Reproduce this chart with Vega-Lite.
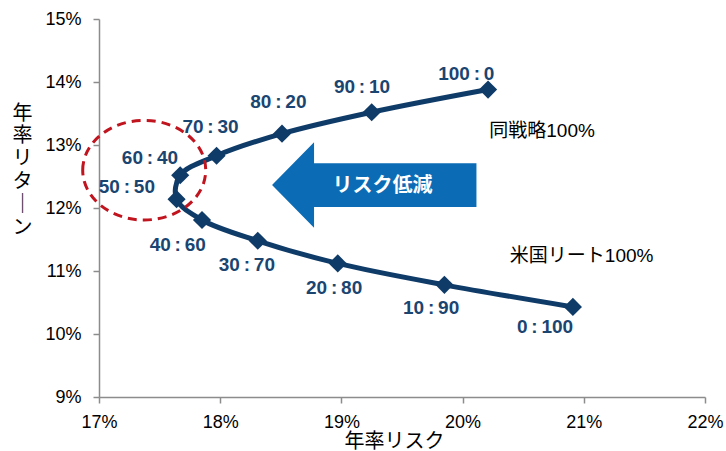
{
  "$schema": "https://vega.github.io/schema/vega-lite/v6.json",
  "width": 606,
  "height": 378,
  "autosize": {"type": "none"},
  "padding": {"left": 99, "top": 19, "right": 21, "bottom": 54},
  "background": "white",
  "config": {"view": {"stroke": null}},
  "datasets": {
    "pts": [
      {"order": 1, "label": "100\u2009:\u20090", "risk": 20.21, "ret": 13.88, "lx": 20.03, "ly": 14.12},
      {"order": 2, "label": "90\u2009:\u200910", "risk": 19.25, "ret": 13.52, "lx": 19.17, "ly": 13.92},
      {"order": 3, "label": "80\u2009:\u200920", "risk": 18.51, "ret": 13.18, "lx": 18.48, "ly": 13.69},
      {"order": 4, "label": "70\u2009:\u200930", "risk": 17.97, "ret": 12.83, "lx": 17.92, "ly": 13.28},
      {"order": 5, "label": "60\u2009:\u200940", "risk": 17.67, "ret": 12.52, "lx": 17.42, "ly": 12.8},
      {"order": 6, "label": "50\u2009:\u200950", "risk": 17.64, "ret": 12.14, "lx": 17.23, "ly": 12.34},
      {"order": 7, "label": "40\u2009:\u200960", "risk": 17.85, "ret": 11.81, "lx": 17.65, "ly": 11.42},
      {"order": 8, "label": "30\u2009:\u200970", "risk": 18.31, "ret": 11.48, "lx": 18.22, "ly": 11.1},
      {"order": 9, "label": "20\u2009:\u200980", "risk": 18.97, "ret": 11.12, "lx": 18.94, "ly": 10.73},
      {"order": 10, "label": "10\u2009:\u200990", "risk": 19.85, "ret": 10.78, "lx": 19.74, "ly": 10.41},
      {"order": 11, "label": "0\u2009:\u2009100", "risk": 20.91, "ret": 10.43, "lx": 20.68, "ly": 10.11}
    ],
    "notes": [
      {"text": "同戦略100%", "x": 20.22, "y": 13.23},
      {"text": "米国リート100%", "x": 20.39, "y": 11.24}
    ],
    "ellipse": [{"x": 17.373, "y": 12.6}],
    "arrow": [{"x": 19.271, "y": 12.365, "text": "リスク低減", "tx": 19.34, "ty": 12.357}]
  },
  "layer": [
    {
      "data": {"name": "pts"},
      "mark": {"type": "line", "interpolate": "catmull-rom", "color": "#0f3b68", "strokeWidth": 5},
      "encoding": {
        "x": {
          "field": "risk", "type": "quantitative",
          "scale": {"domain": [17, 22], "nice": false, "zero": false},
          "axis": {
            "values": [17, 18, 19, 20, 21, 22],
            "labelExpr": "datum.value + '%'",
            "grid": false,
            "domainColor": "#8c8c8c", "domainWidth": 1.5,
            "tickColor": "#8c8c8c", "tickWidth": 1.5, "tickSize": 6,
            "labelFont": "Liberation Sans", "labelFontSize": 18, "labelColor": "#000000",
            "labelPadding": 10, "labelFlush": false,
            "title": "年率リスク",
            "titleFont": "Noto Sans CJK JP", "titleFontSize": 20, "titleFontWeight": "normal",
            "titleColor": "#000000", "titleBaseline": "middle", "titleY": 44, "titleX": 295
          }
        },
        "y": {
          "field": "ret", "type": "quantitative",
          "scale": {"domain": [9, 15], "nice": false, "zero": false},
          "axis": {
            "values": [9, 10, 11, 12, 13, 14, 15],
            "labelExpr": "datum.value + '%'",
            "grid": false,
            "domainColor": "#8c8c8c", "domainWidth": 1.5,
            "tickColor": "#8c8c8c", "tickWidth": 1.5, "tickSize": 6,
            "labelFont": "Liberation Sans", "labelFontSize": 18, "labelColor": "#000000",
            "labelPadding": 12, "labelFlush": false,
            "title": ["年", "率", "リ", "タ", "｜", "ン"],
            "titleAngle": 0, "titleAlign": "center", "titleBaseline": "top",
            "titleLineHeight": 22.8,
            "titleX": -77, "titleY": 84,
            "titleFont": "Noto Sans CJK JP", "titleFontSize": 20, "titleFontWeight": "normal",
            "titleColor": "#000000"
          }
        },
        "order": {"field": "order", "type": "quantitative"}
      }
    },
    {
      "data": {"name": "pts"},
      "mark": {"type": "point", "shape": "diamond", "filled": true, "opacity": 1, "color": "#0f3b68", "size": 330},
      "encoding": {
        "x": {"field": "risk", "type": "quantitative"},
        "y": {"field": "ret", "type": "quantitative"}
      }
    },
    {
      "data": {"name": "ellipse"},
      "mark": {
        "type": "point",
        "shape": "M -1 0 C -1 -0.447 -0.552 -0.81 0 -0.81 C 0.552 -0.81 1 -0.447 1 0 C 1 0.447 0.552 0.81 0 0.81 C -0.552 0.81 -1 0.447 -1 0 Z",
        "filled": false, "opacity": 1, "color": "#c0141f", "strokeWidth": 3, "strokeDash": [9, 6], "size": 15129
      },
      "encoding": {
        "x": {"field": "x", "type": "quantitative"},
        "y": {"field": "y", "type": "quantitative"}
      }
    },
    {
      "data": {"name": "arrow"},
      "mark": {
        "type": "point",
        "shape": "M -1 0 L -0.589 -0.419 L -0.589 -0.214 L 1 -0.214 L 1 0.214 L -0.589 0.214 L -0.589 0.419 Z",
        "filled": true, "opacity": 1, "color": "#0b6cb5", "strokeWidth": 0, "size": 41779
      },
      "encoding": {
        "x": {"field": "x", "type": "quantitative"},
        "y": {"field": "y", "type": "quantitative"}
      }
    },
    {
      "data": {"name": "arrow"},
      "mark": {"type": "text", "font": "Noto Sans CJK JP", "fontWeight": "bold", "fontSize": 20, "color": "#ffffff", "align": "center", "baseline": "middle"},
      "encoding": {
        "x": {"field": "tx", "type": "quantitative"},
        "y": {"field": "ty", "type": "quantitative"},
        "text": {"field": "text"}
      }
    },
    {
      "data": {"name": "pts"},
      "mark": {"type": "text", "font": "Liberation Sans", "fontWeight": "bold", "fontSize": 19, "color": "#1b4571", "align": "center", "baseline": "middle"},
      "encoding": {
        "x": {"field": "lx", "type": "quantitative"},
        "y": {"field": "ly", "type": "quantitative"},
        "text": {"field": "label"}
      }
    },
    {
      "data": {"name": "notes"},
      "mark": {"type": "text", "font": "Liberation Sans, Noto Sans CJK JP", "fontSize": 19, "color": "#000000", "align": "left", "baseline": "middle"},
      "encoding": {
        "x": {"field": "x", "type": "quantitative"},
        "y": {"field": "y", "type": "quantitative"},
        "text": {"field": "text"}
      }
    }
  ]
}
